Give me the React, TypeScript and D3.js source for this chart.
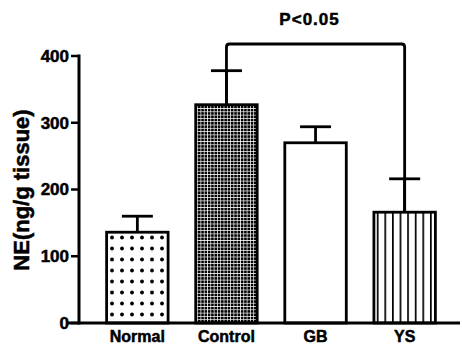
import React from 'react'
import * as d3 from 'd3'

const groups = ['Normal', 'Control', 'GB', 'YS']
const means = [136, 327, 270, 166]
const errors = [24, 51, 24, 50]
const fills = ['url(#dots)', 'url(#dense)', '#fff', 'url(#stripes)']
const yTicks = [0, 100, 200, 300, 400]

const W = 462
const H = 351

export default function App() {
  const x = d3.scaleBand()
    .domain(groups)
    .range([79, 463])
    .paddingInner(0.31)
    .paddingOuter(0.31)

  const y = d3.scaleLinear()
    .domain([0, 400])
    .range([323, 56])

  const font = '"Liberation Sans", Arial, sans-serif'
  const cx = (g: string) => (x(g) as number) + x.bandwidth() / 2
  const capW = 31
  // scanned text looks heavier than plain bold
  const textStyle = { fontFamily: font, fontWeight: 'bold' as const, stroke: '#000', strokeWidth: 0.5 }

  // bracket between Control and YS
  const bx1 = cx('Control')
  const bx2 = cx('YS')
  const by = 44
  const bracket = `M${bx1},${y(means[1])} L${bx1},${by + 3} Q${bx1},${by} ${bx1 + 3},${by} L${bx2 - 3},${by} Q${bx2},${by} ${bx2},${by + 3} L${bx2},${y(means[3])}`

  return (
    <svg width={W} height={H} style={{ position: 'absolute', left: 0, top: 0, background: '#fff' }}>
      <defs>
        <pattern id="dots" width="10" height="11" patternUnits="userSpaceOnUse" x="107" y="232">
          <rect width="10" height="11" fill="#fff" />
          <circle cx="5" cy="5.5" r="1.9" fill="#000" />
        </pattern>
        <pattern id="dense" width="3.3" height="3.3" patternUnits="userSpaceOnUse">
          <rect width="3.3" height="3.3" fill="#fff" />
          <rect width="2.6" height="2.6" fill="#000" />
        </pattern>
        <pattern id="stripes" width="7.6" height="10" patternUnits="userSpaceOnUse" x="373">
          <rect width="7.6" height="10" fill="#fff" />
          <rect x="3.8" width="1.7" height="10" fill="#000" />
        </pattern>
      </defs>

      {/* bars */}
      {groups.map((g, i) => (
        <rect key={g}
          x={x(g)}
          y={y(means[i])}
          width={x.bandwidth()}
          height={y(0) - y(means[i])}
          fill={fills[i]}
          stroke="#000"
          strokeWidth={2.8} />
      ))}

      {/* error bars */}
      {groups.map((g, i) => (
        <g key={g} stroke="#000" strokeWidth={2.8}>
          <line x1={cx(g)} x2={cx(g)} y1={y(means[i])} y2={y(means[i] + errors[i])} />
          <line x1={cx(g) - capW / 2} x2={cx(g) + capW / 2} y1={y(means[i] + errors[i])} y2={y(means[i] + errors[i])} />
        </g>
      ))}

      <path d={bracket} fill="none" stroke="#000" strokeWidth={2.8} />
      <text x={(bx1 + bx2) / 2 - 6} y={25} textAnchor="middle" fontSize={17} letterSpacing={1} {...textStyle}>P&lt;0.05</text>

      {/* axes */}
      <line x1={79} x2={79} y1={y(400) - 1.5} y2={y(0) + 1.5} stroke="#000" strokeWidth={3} />
      <line x1={68} x2={460} y1={y(0)} y2={y(0)} stroke="#000" strokeWidth={3} />
      {yTicks.map(t => (
        <g key={t}>
          <line x1={71} x2={79} y1={y(t)} y2={y(t)} stroke="#000" strokeWidth={2.5} />
          <text x={69} y={y(t)} dy="0.35em" textAnchor="end" fontSize={17} {...textStyle}>{t}</text>
        </g>
      ))}
      {groups.map(g => (
        <text key={g} x={cx(g)} y={342} textAnchor="middle" fontSize={16} {...textStyle}>{g}</text>
      ))}

      <text transform="translate(29,190) rotate(-90)" textAnchor="middle" fontSize={22} {...textStyle}>NE(ng/g tissue)</text>
    </svg>
  )
}
